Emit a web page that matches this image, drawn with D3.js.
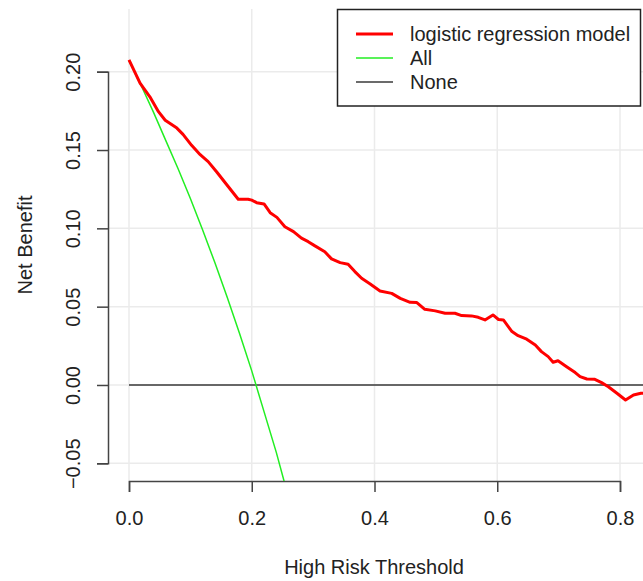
<!DOCTYPE html>
<html>
<head>
<meta charset="utf-8">
<script src="https://cdn.jsdelivr.net/npm/d3@7"></script>
<style>
  body { margin: 0; background: #fff; }
  svg text { font-family: "Liberation Sans", Arial, sans-serif; fill: #222; }
</style>
</head>
<body>
<svg id="chart" width="643" height="581"></svg>
<script>
// Decision curve data
const thresholds = [0.000, 0.018, 0.034, 0.048, 0.059, 0.078, 0.088, 0.102, 0.116, 0.129,
  0.143, 0.159, 0.178, 0.194, 0.200, 0.208, 0.220, 0.230, 0.241, 0.254,
  0.268, 0.281, 0.292, 0.303, 0.319, 0.330, 0.344, 0.357, 0.368, 0.379,
  0.393, 0.409, 0.428, 0.442, 0.458, 0.469, 0.482, 0.499, 0.515, 0.531,
  0.542, 0.558, 0.569, 0.580, 0.593, 0.602, 0.610, 0.624, 0.634, 0.648,
  0.662, 0.672, 0.683, 0.691, 0.699, 0.713, 0.727, 0.735, 0.746, 0.759,
  0.770, 0.781, 0.795, 0.809, 0.822, 0.834, 0.845];
const modelBenefit = [0.2075, 0.1927, 0.184, 0.1745, 0.169, 0.164, 0.160, 0.153, 0.147, 0.1426,
  0.136, 0.128, 0.1186, 0.1186, 0.118, 0.1164, 0.1156, 0.110, 0.107, 0.101,
  0.0979, 0.0937, 0.0915, 0.0888, 0.0851, 0.0805, 0.0781, 0.0771, 0.0724, 0.0681,
  0.0645, 0.0600, 0.0585, 0.0553, 0.0528, 0.0526, 0.0483, 0.0473, 0.0458, 0.0458,
  0.0443, 0.0441, 0.0432, 0.0415, 0.0447, 0.0418, 0.0415, 0.0341, 0.0315, 0.0292,
  0.0255, 0.0213, 0.0181, 0.0145, 0.0155, 0.0117, 0.0079, 0.0053, 0.0038, 0.0036,
  0.0015, -0.0011, -0.0053, -0.0096, -0.0064, -0.0053, -0.0050];

const allThresholds = [0.00, 0.02, 0.04, 0.06, 0.08, 0.10, 0.12, 0.14, 0.16, 0.18, 0.20, 0.22, 0.24, 0.26];
const allBenefit = [0.207, 0.191, 0.174, 0.156, 0.138, 0.119, 0.099, 0.078, 0.056, 0.033, 0.009, -0.017, -0.043, -0.072];

const noneThresholds = [0.0, 0.85];
const noneBenefit = [0, 0];

const xTicks = [0.0, 0.2, 0.4, 0.6, 0.8];
const yTicks = [-0.05, 0.00, 0.05, 0.10, 0.15, 0.20];

const legendLabels = ["logistic regression model", "All", "None"];
const legendColors = ["#ff0000", "#22ee22", "#3a3a3a"];

const svg = d3.select("#chart");
const plot = { left: 108, right: 643, top: 9, bottom: 481 };
const fontSize = "20px";

// Scales
let xScale = d3.scaleLinear().domain([0, 0.8]).range([129, 620]);
let yScale = d3.scaleLinear().domain([-0.05, 0.2]).range([463.3, 71.7]);

svg.append("clipPath").attr("id", "clip")
  .append("rect")
  .attr("x", plot.left).attr("y", plot.top)
  .attr("width", plot.right - plot.left).attr("height", plot.bottom - plot.top);

// Grid
let grid = svg.append("g").attr("stroke", "#ebebeb").attr("stroke-width", 1.5);
grid.selectAll("line.v").data(xTicks).enter().append("line")
  .attr("x1", d => xScale(d)).attr("x2", d => xScale(d))
  .attr("y1", plot.top).attr("y2", plot.bottom);
grid.selectAll("line.h").data(yTicks).enter().append("line")
  .attr("x1", plot.left).attr("x2", plot.right)
  .attr("y1", d => yScale(d)).attr("y2", d => yScale(d));

// Axes
let xAxis = d3.axisBottom(xScale).tickValues(xTicks).tickSize(11).tickPadding(19)
  .tickFormat(d3.format(".1f"));
let yAxis = d3.axisLeft(yScale).tickValues(yTicks).tickSize(11)
  .tickFormat(d3.format(".2f"));

let gx = svg.append("g").attr("transform", `translate(0, ${plot.bottom})`).call(xAxis);
let gy = svg.append("g").attr("transform", `translate(${plot.left}, 0)`).call(yAxis);

[gx, gy].forEach(g => {
  g.selectAll("path, line").attr("stroke", "#444").attr("stroke-width", 1.5);
  g.selectAll("text").style("font-size", fontSize).attr("fill", "#222");
});

gy.selectAll("text")
  .attr("transform", "rotate(-90)")
  .attr("x", 0)
  .attr("y", -28)
  .attr("dy", 0)
  .attr("text-anchor", "middle");

// Axis titles
svg.append("text")
  .attr("x", 374).attr("y", 574)
  .attr("text-anchor", "middle")
  .style("font-size", fontSize)
  .text("High Risk Threshold");

svg.append("text")
  .attr("transform", "translate(32, 245) rotate(-90)")
  .attr("text-anchor", "middle")
  .style("font-size", fontSize)
  .text("Net Benefit");

// Curves
let line = d3.line().x(d => xScale(d[0])).y(d => yScale(d[1]));
let series = svg.append("g").attr("clip-path", "url(#clip)").attr("fill", "none");

series.append("path")
  .datum(d3.zip(noneThresholds, noneBenefit))
  .attr("d", line).attr("stroke", legendColors[2]).attr("stroke-width", 1.5);

series.append("path")
  .datum(d3.zip(allThresholds, allBenefit))
  .attr("d", line).attr("stroke", legendColors[1]).attr("stroke-width", 1.5);

series.append("path")
  .datum(d3.zip(thresholds, modelBenefit))
  .attr("d", line).attr("stroke", legendColors[0]).attr("stroke-width", 3)
  .attr("stroke-linejoin", "round");

// Legend
let legend = svg.append("g");
legend.append("rect")
  .attr("x", 337.5).attr("y", 9.5).attr("width", 303).attr("height", 96.5)
  .attr("fill", "#fff").attr("stroke", "#222").attr("stroke-width", 1.5);

let rows = legend.selectAll("g.row").data(legendLabels).enter().append("g")
  .attr("transform", (d, i) => `translate(0, ${34 + i * 24})`);
rows.append("line")
  .attr("x1", 356).attr("x2", 393).attr("y1", 0).attr("y2", 0)
  .attr("stroke", (d, i) => legendColors[i])
  .attr("stroke-width", (d, i) => i === 0 ? 3 : 1.5);
rows.append("text")
  .attr("x", 410).attr("y", 7)
  .style("font-size", fontSize)
  .text(d => d);
</script>
</body>
</html>
